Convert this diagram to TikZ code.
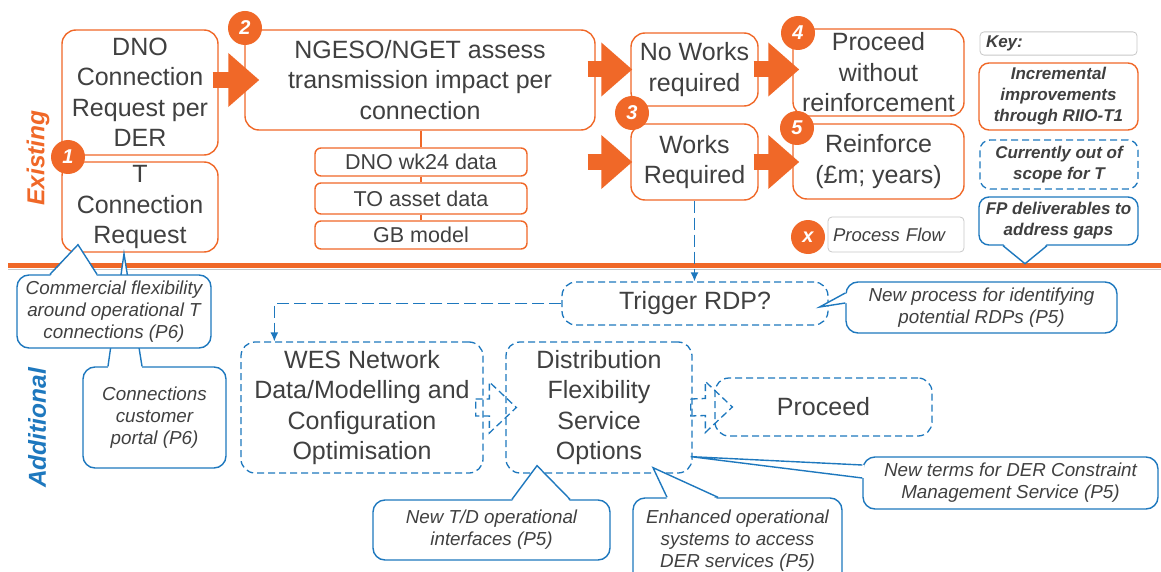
\documentclass[tikz,border=0pt]{standalone}
\usepackage{fontspec}
\setmainfont{Liberation Sans}
\usetikzlibrary{arrows.meta,calc}
\definecolor{ngorange}{RGB}{240,104,40}
\definecolor{ngblue}{RGB}{30,120,190}
\definecolor{txtgrey}{RGB}{64,64,64}
\definecolor{keygrey}{RGB}{200,200,200}
\newcommand{\mainsize}{\fontsize{25}{30.5}\selectfont}
\newcommand{\datasize}{\fontsize{21.5}{24}\selectfont}
\newcommand{\callsize}{\fontsize{18.8}{22}\selectfont\itshape}
\newcommand{\keysize}{\fontsize{17}{21}\selectfont\bfseries\itshape}
\newcommand{\callptr}[4]{%
  \fill[white] ($(#1)+(#4)$) -- (#2) -- ($(#3)+(#4)$) -- cycle;
  \draw[callline] (#1) -- (#2) -- (#3);}
\newcommand{\hollowarrow}[2]{%
  \draw[newline] ($(#1)+(0,-8.5)$) -- ($(#2)+(-27,-8.5)$) -- ($(#2)+(-27,-25.5)$)
    -- (#2) -- ($(#2)+(-27,25.5)$) -- ($(#2)+(-27,8.5)$) -- ($(#1)+(0,8.5)$) -- cycle;}
\tikzset{
  procbox/.style={draw=ngorange, line width=1.4pt, rounded corners=14pt, fill=white,
    text=txtgrey, align=center, inner sep=2pt, font=\mainsize},
  databox/.style={procbox, rounded corners=6pt, font=\datasize, minimum width=212pt},
  newline/.style={draw=ngblue, line width=1.3pt, dash pattern=on 7pt off 4pt},
  newbox/.style={procbox, newline},
  callbox/.style={draw=ngblue, line width=1.4pt, rounded corners=12pt, fill=white,
    text=txtgrey, align=center, inner sep=2pt, font=\callsize},
  callline/.style={draw=ngblue, line width=1.4pt},
  badge/.style={circle, fill=ngorange, text=white, minimum size=34pt, inner sep=0pt,
    font=\fontsize{20}{20}\selectfont\bfseries\itshape},
  flowarrow/.style={draw=ngorange, line width=16pt, -{Triangle[length=31pt,width=52pt]}},
  dashconn/.style={draw=ngblue, line width=1.3pt, dash pattern=on 12pt off 5pt,
    -{Latex[length=9pt,width=8pt]}},
  keybox/.style={draw=keygrey, line width=0.8pt, rounded corners=4pt, text=txtgrey,
    inner sep=4pt, align=left},
}
\begin{document}
\begin{tikzpicture}[x=1pt, y=-1pt]
 \fill[white] (0,0) rectangle (1161,572);
 \useasboundingbox (0,0) rectangle (1161,572);

 \draw[keygrey, line width=1pt] (8,269) -- (1161,269);
 \draw[ngorange, line width=4.5pt] (8,265.5) -- (1161,265.5);

 \node[rotate=90, text=ngorange, font=\fontsize{24.5}{24}\selectfont\bfseries\itshape] (existing) at (38,158) {Existing};
 \node[rotate=90, text=ngblue, font=\fontsize{24.5}{24}\selectfont\bfseries\itshape] (additional) at (37,428) {Additional};

 \node[procbox, minimum width=156pt, minimum height=125pt] (dno) at (140,92.5) {DNO\\Connection\\Request per\\DER};
 \node[procbox, minimum width=156pt, minimum height=90pt] (treq) at (140,207) {T\\Connection\\Request};
 \node[procbox, minimum width=350pt, minimum height=100pt] (ngeso) at (420,80) {NGESO/NGET assess\\transmission impact per\\connection};
 \node[databox, minimum height=28pt] (wk24) at (421,162) {DNO wk24 data};
 \node[databox, minimum height=31pt] (toasset) at (421,198.5) {TO asset data};
 \node[databox, minimum height=28pt] (gbmodel) at (421,235) {GB model};
 \node[procbox, minimum width=127pt, minimum height=73pt] (noworks) at (694.5,69.5) {No Works\\required};
 \node[procbox, minimum width=127pt, minimum height=76pt] (works) at (694.5,162) {Works\\Required};
 \node[procbox, minimum width=171pt, minimum height=87pt] (proceedwo) at (878.5,72.5) {Proceed\\without\\reinforcement};
 \node[procbox, minimum width=171pt, minimum height=75pt] (reinforce) at (878.5,161.5) {Reinforce\\(£m; years)};

 \draw[ngorange, line width=1.4pt] (ngeso.south -| wk24.north) -- (wk24.north);
 \draw[ngorange, line width=1.4pt] (wk24.south) -- (toasset.north);
 \draw[ngorange, line width=1.4pt] (toasset.south) -- (gbmodel.north);

 \node[keybox, minimum width=157pt, minimum height=23pt, text width=145pt, font=\keysize] (key) at (1058.5,43.5) {Key:};
 \node[procbox, rounded corners=10pt, font=\keysize, minimum width=159pt, minimum height=67pt] (incr) at (1058.5,96.5) {Incremental\\improvements\\through RIIO-T1};
 \node[newbox, rounded corners=10pt, font=\keysize, minimum width=158pt, minimum height=49pt] (outscope) at (1059,164.5) {Currently out of\\scope for T};
 \node[callbox, rounded corners=10pt, font=\keysize, minimum width=159pt, minimum height=48pt] (fpdel) at (1058.5,221) {FP deliverables to\\address gaps};
 \callptr{[xshift=-55.5pt]fpdel.south}{[xshift=-33.5pt,yshift=-18pt]fpdel.south}{[xshift=-11.5pt]fpdel.south}{0,-2}
 \node[keybox, minimum width=136pt, minimum height=35pt, text width=126pt, font=\fontsize{18.5}{22}\selectfont\itshape] (flowkey) at (896,234.5) {Process Flow};

 \node[newbox, minimum width=266pt, minimum height=43pt] (trigger) at (695,303.5) {Trigger RDP?};
 \node[newbox, minimum width=242pt, minimum height=131pt] (wes) at (362,407.5) {WES Network\\Data/Modelling and\\Configuration\\Optimisation};
 \node[newbox, minimum width=186pt, minimum height=131pt] (distflex) at (599,407.5) {Distribution\\Flexibility\\Service\\Options};
 \node[newbox, minimum width=217pt, minimum height=58pt] (proceed) at (823.5,407) {Proceed};

 \draw[dashconn] (works.south) -- (works.south |- trigger.north);
 \draw[dashconn] (trigger.west) -| ([xshift=34pt]wes.north west);
 \hollowarrow{[xshift=-8pt]wes.east}{[xshift=11pt]distflex.west}
 \hollowarrow{[xshift=-2pt]distflex.east}{[xshift=18pt]proceed.west}

 \node[callbox, minimum width=143pt, minimum height=101pt] (portal) at (154.5,417.5) {Connections\\customer\\portal (P6)};
 \callptr{[xshift=-46.5pt]portal.north}{[xshift=-16pt,yshift=-1pt]treq.south}{[xshift=-12.5pt]portal.north}{0,2}
 \node[callbox, minimum width=194pt, minimum height=73pt] (commflex) at (114,311.5) {Commercial flexibility\\around operational T\\connections (P6)};
 \callptr{[xshift=-64pt]commflex.north}{[xshift=-62pt,yshift=8pt]treq.south}{[xshift=-17pt]commflex.north}{0,2}

 \node[callbox, minimum width=271pt, minimum height=51pt] (rdpcall) at (981.5,307.5) {New process for identifying\\potential RDPs (P5)};
 \callptr{[yshift=14.5pt]rdpcall.west}{[xshift=-9pt,yshift=-3.5pt]trigger.east}{[yshift=4.5pt]rdpcall.west}{2,0}
 \node[callbox, minimum width=295pt, minimum height=52pt] (dercms) at (1010.5,483) {New terms for DER Constraint\\Management Service (P5)};
 \callptr{[yshift=18pt]dercms.west}{[xshift=-2pt,yshift=17pt]distflex.south east}{[yshift=5pt]dercms.west}{2,0}
 \node[callbox, minimum width=237pt, minimum height=60pt] (tdint) at (491.5,530) {New T/D operational\\interfaces (P5)};
 \callptr{[xshift=20.5pt]tdint.north}{[xshift=-62pt,yshift=8pt]distflex.south}{[xshift=78.5pt]tdint.north}{0,2}
 \node[callbox, minimum width=209pt, minimum height=86pt] (enhanced) at (737.5,541) {Enhanced operational\\systems to access\\DER services (P5)};
 \callptr{[xshift=-70.5pt]enhanced.north}{[xshift=54pt,yshift=6pt]distflex.south}{[xshift=-19.5pt]enhanced.north}{0,2}

 \draw[flowarrow] ([xshift=-6pt]dno.east |- ngeso.west) -- ([xshift=15pt]ngeso.west);
 \draw[flowarrow] ([xshift=-8pt]ngeso.east |- noworks.west) -- ([xshift=2pt]noworks.west);
 \draw[flowarrow] ([xshift=-8pt]ngeso.east |- works.west) -- ([xshift=2pt]works.west);
 \draw[flowarrow] ([xshift=-5pt]noworks.east) -- ([xshift=7pt]proceedwo.west |- noworks.east);
 \draw[flowarrow] ([xshift=-5pt]works.east) -- ([xshift=7pt]reinforce.west |- works.east);

 \node[badge] (b1) at (68,157) {1};
 \node[badge] (b2) at (245,28) {2};
 \node[badge] (b3) at (632,113) {3};
 \node[badge] (b4) at (798,33) {4};
 \node[badge] (b5) at (797,128) {5};
 \node[badge] (bx) at (808,237) {x};
\end{tikzpicture}
\end{document}
